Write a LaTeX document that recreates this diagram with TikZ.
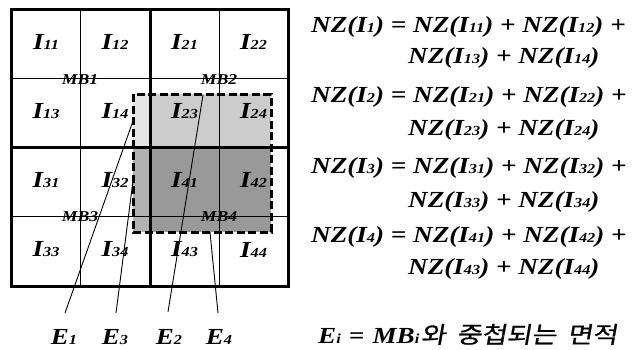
\documentclass[tikz,border=0pt]{standalone}
\usepackage{fontspec}
\usepackage{graphicx}
\setmainfont{Liberation Serif}
\newfontfamily\krfont[FakeSlant=0.15,FakeBold=0.6]{Noto Sans CJK KR}
\newcommand\sbs[1]{\scalebox{0.6}{#1}}
\newcommand\wide[1]{\scalebox{1.18}[1]{#1}}
\newcommand\ffs[1]{\fontsize{#1}{#1}\selectfont}
\newcommand\NZ[1]{NZ(I\sbs{#1})}
\begin{document}
\begin{tikzpicture}[x=1pt,y=-1pt,
  cell/.style={font=\ffs{23pt}\bfseries\itshape, inner sep=0pt},
  mblab/.style={font=\ffs{15pt}\bfseries\itshape, inner sep=0pt},
  eqline/.style={font=\ffs{23pt}\bfseries\itshape, inner sep=0pt, anchor=base west},
  elab/.style={font=\ffs{23pt}\bfseries\itshape, inner sep=0pt, anchor=base},
  thickgrid/.style={line width=3pt},
  thingrid/.style={line width=0.9pt},
  overlap/.style={line width=3pt, dash pattern=on 8pt off 3.5pt},
  leader/.style={line width=0.9pt}]
\useasboundingbox (0,0) rectangle (643,349);
% fills
\fill[black!10] (133,94) rectangle (150,147);
\fill[black!20] (150,94) rectangle (271,147);
\fill[black!30] (133,147) rectangle (150,232);
\fill[black!40] (150,147) rectangle (271,232);
% thin grid
\draw[thingrid] (80,9) -- (80,286) (219,9) -- (219,286)
  (11,78) -- (288,78) (11,216.5) -- (288,216.5);
% thick grid
\draw[thickgrid] (11,9) rectangle (288,286);
\draw[thickgrid] (150,9) -- (150,286) (11,147) -- (288,147);
% dashed overlap rectangle
\draw[overlap] (133,94) rectangle (271,232);
% cell labels
\foreach \lab/\x/\y in {11/46/42,12/115/42,21/184.5/42,22/253.5/42,
  13/46/111,14/115/111,23/184.5/111,24/253.5/111,
  31/46/180,32/115/180,41/184.5/180,42/253.5/180,
  33/46/249.5,34/115/249.5,43/184.5/249.5,44/253.5/249.5}
  \node[cell] (I\lab) at (\x,\y) {\wide{I\sbs{\lab}}};
\node[mblab] (MB1) at (80,79.5) {\wide{MB1}};
\node[mblab] (MB2) at (219,79.5) {\wide{MB2}};
\node[mblab] (MB3) at (80,217) {\wide{MB3}};
\node[mblab] (MB4) at (219,217) {\wide{MB4}};
% E labels
\node[elab] (E1) at (64,344) {\wide{E\sbs{1}}};
\node[elab] (E3) at (115,344) {\wide{E\sbs{3}}};
\node[elab] (E2) at (169,344) {\wide{E\sbs{2}}};
\node[elab] (E4) at (219,344) {\wide{E\sbs{4}}};
\coordinate (e1b) at (65,313); \coordinate (e1t) at (133,121);
\coordinate (e3b) at (116,313); \coordinate (e3t) at (133,181);
\coordinate (e2b) at (168,312); \coordinate (e2t) at (203,95);
\coordinate (e4b) at (218,313); \coordinate (e4t) at (210,232);
\draw[leader] (e1b) -- (e1t);
\draw[leader] (e3b) -- (e3t);
\draw[leader] (e2b) -- (e2t);
\draw[leader] (e4b) -- (e4t);
% equations
\node[eqline] (q1a) at (311,32) {\wide{\NZ{1} = \NZ{11} + \NZ{12} +}};
\node[eqline] (q1b) at (408,63) {\wide{\NZ{13} + \NZ{14}}};
\node[eqline] (q2a) at (311,102) {\wide{\NZ{2} = \NZ{21} + \NZ{22} +}};
\node[eqline] (q2b) at (408,135) {\wide{\NZ{23} + \NZ{24}}};
\node[eqline] (q3a) at (311,173) {\wide{\NZ{3} = \NZ{31} + \NZ{32} +}};
\node[eqline] (q3b) at (408,207) {\wide{\NZ{33} + \NZ{34}}};
\node[eqline] (q4a) at (311,242) {\wide{\NZ{4} = \NZ{41} + \NZ{42} +}};
\node[eqline] (q4b) at (408,274) {\wide{\NZ{43} + \NZ{44}}};
\node[eqline, font=\ffs{23pt}\bfseries\itshape] (def) at (318,343)
  {\wide{E\sbs{i}\hspace{0.3em}=\hspace{0.3em}MB\sbs{i}\hspace{0.05em}{\krfont\mdseries\upshape\ffs{23pt}와\hspace{0.4em}중첩되는\hspace{0.4em}면적}}};
\end{tikzpicture}
\end{document}
